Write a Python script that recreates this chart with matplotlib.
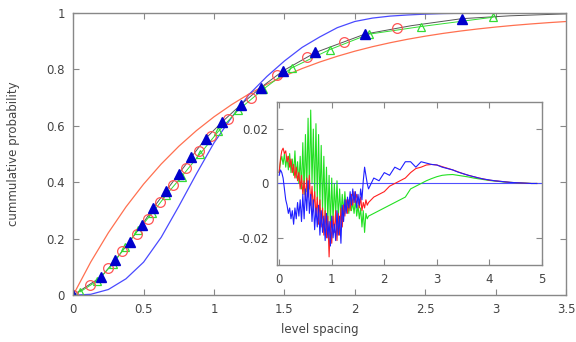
import numpy as np
import matplotlib
matplotlib.use('Agg')
import matplotlib.pyplot as plt

# theory curves, sampled every 0.125 in level spacing
s_theory = np.linspace(0, 3.5, 29)
poisson_cdf = [0.0, 0.1175, 0.2212, 0.3127, 0.3935, 0.4647, 0.5276, 0.5831, 0.6321,
               0.6753, 0.7135, 0.7472, 0.7769, 0.8031, 0.8262, 0.8466, 0.8647, 0.8806,
               0.8946, 0.9070, 0.9179, 0.9276, 0.9361, 0.9436, 0.9502, 0.9561, 0.9612,
               0.9658, 0.9698]
wigner_cdf = [0.0, 0.003, 0.02, 0.058, 0.117, 0.205, 0.315, 0.43, 0.54,
              0.63, 0.712, 0.775, 0.83, 0.878, 0.915, 0.948, 0.97, 0.982,
              0.989, 0.993, 0.996, 0.998, 0.999, 1.0, 1.0, 1.0, 1.0, 1.0, 1.0]

# measured cumulative distribution (black line) and the three marker sets
data_s = [0.0, 0.2, 0.3, 0.4, 0.49, 0.57, 0.66, 0.75, 0.84, 0.94, 1.06, 1.19, 1.33,
          1.49, 1.72, 2.07, 2.4, 2.76, 3.1, 3.5]
data_cdf = [0.0, 0.065, 0.125, 0.19, 0.25, 0.31, 0.37, 0.43, 0.49, 0.555, 0.615, 0.675,
            0.735, 0.795, 0.86, 0.925, 0.955, 0.98, 0.99, 0.997]

tri_s = [0.0, 0.2, 0.3, 0.4, 0.49, 0.57, 0.66, 0.75, 0.84, 0.94, 1.06, 1.19, 1.33,
         1.49, 1.72, 2.07, 2.76]
tri_cdf = [0.0, 0.065, 0.125, 0.19, 0.25, 0.31, 0.37, 0.43, 0.49, 0.555, 0.615, 0.675,
           0.735, 0.795, 0.86, 0.925, 0.98]

circ_s = [0.0, 0.12, 0.25, 0.35, 0.45, 0.53, 0.62, 0.71, 0.8, 0.89, 0.98, 1.1, 1.26,
          1.45, 1.66, 1.92, 2.3]
circ_cdf = [0.0, 0.035, 0.095, 0.155, 0.215, 0.27, 0.33, 0.39, 0.45, 0.51, 0.565, 0.625,
            0.7, 0.78, 0.845, 0.897, 0.948]

gtri_s = [0.05, 0.17, 0.28, 0.37, 0.46, 0.56, 0.66, 0.77, 0.9, 1.03, 1.17, 1.35, 1.55,
          1.82, 2.1, 2.47, 2.98]
gtri_cdf = [0.012, 0.05, 0.11, 0.17, 0.23, 0.29, 0.355, 0.42, 0.5, 0.58, 0.655, 0.73,
            0.805, 0.87, 0.925, 0.952, 0.985]

# inset: difference to fit, fine sampling up to 1.675, then every 0.1
x_fine = np.linspace(0, 1.675, 68)
x_tail = np.linspace(1.7, 4.9, 33)

blue_fine = [0.003, 0.005, 0.004, 0.002, -0.002, -0.006, -0.008, -0.011, -0.009, -0.013,
             -0.010, -0.015, -0.009, -0.013, -0.007, -0.012, -0.006, -0.014, -0.004, -0.013,
             -0.002, -0.010, 0.001, -0.011, -0.004, -0.014, -0.006, -0.017, -0.009, -0.016,
             -0.008, -0.019, -0.010, -0.018, -0.012, -0.021, -0.011, -0.020, -0.014, -0.023,
             -0.012, -0.020, -0.015, -0.021, -0.010, -0.019, -0.012, -0.022, -0.008, -0.014,
             -0.006, -0.011, -0.005, -0.009, -0.003, -0.008, -0.002, -0.007, -0.003, -0.009,
             -0.004, -0.008, -0.002, -0.006, 0.001, 0.006, 0.003, 0.000]
blue_tail = [-0.002, 0.002, 0.001, 0.004, 0.003, 0.006, 0.005, 0.008, 0.008, 0.006,
             0.008, 0.0075, 0.007, 0.0068, 0.006, 0.0055, 0.005, 0.0042, 0.0036, 0.003,
             0.0025, 0.002, 0.0016, 0.0013, 0.001, 0.0008, 0.0006, 0.0004, 0.0003, 0.0002,
             0.0001, 0.0, 0.0]

red_fine = [0.004, 0.009, 0.012, 0.013, 0.011, 0.012, 0.008, 0.010, 0.006, 0.009,
            0.004, 0.007, 0.002, 0.006, 0.001, 0.004, -0.002, 0.003, -0.004, 0.001,
            -0.006, 0.002, -0.005, 0.003, -0.008, -0.001, -0.010, -0.003, -0.012, -0.005,
            -0.015, -0.006, -0.016, -0.009, -0.019, -0.010, -0.020, -0.012, -0.027, -0.014,
            -0.022, -0.012, -0.018, -0.010, -0.021, -0.011, -0.019, -0.009, -0.016, -0.008,
            -0.012, -0.006, -0.011, -0.006, -0.010, -0.004, -0.008, -0.003, -0.007, -0.004,
            -0.006, -0.009, -0.005, -0.010, -0.007, -0.009, -0.006, -0.008]
red_tail = [-0.007, -0.005, -0.004, -0.003, -0.001, 0.000, 0.001, 0.002, 0.004, 0.0055,
            0.006, 0.0068, 0.007, 0.0068, 0.0062, 0.0056, 0.005, 0.0043, 0.0036, 0.003,
            0.0025, 0.002, 0.0016, 0.0012, 0.001, 0.0008, 0.0006, 0.0004, 0.0003, 0.0002,
            0.0001, 0.0, 0.0]

green_fine = [0.004, 0.008, 0.010, 0.007, 0.011, 0.006, 0.010, 0.005, 0.011, 0.004,
              0.009, 0.003, 0.012, 0.002, 0.008, 0.000, 0.010, -0.002, 0.015, -0.004,
              0.018, -0.003, 0.024, -0.002, 0.027, 0.000, 0.020, -0.005, 0.022, -0.006,
              0.018, -0.008, 0.014, -0.010, 0.010, -0.012, 0.006, -0.014, 0.003, -0.016,
              0.002, -0.014, 0.000, -0.012, 0.001, -0.013, -0.002, -0.012, -0.004, -0.011,
              -0.003, -0.010, -0.006, -0.011, -0.005, -0.010, -0.007, -0.011, -0.006, -0.012,
              -0.008, -0.013, -0.009, -0.016, -0.010, -0.018, -0.011, -0.013]
green_tail = [-0.012, -0.011, -0.010, -0.009, -0.008, -0.007, -0.006, -0.005, -0.002, -0.001,
              0.000, 0.001, 0.0018, 0.0025, 0.003, 0.0032, 0.0033, 0.003, 0.0027, 0.0024,
              0.002, 0.0017, 0.0014, 0.0011, 0.0009, 0.0007, 0.0005, 0.0004, 0.0003, 0.0002,
              0.0001, 0.0, 0.0]

frame = '#888888'
text = '#444444'

fig = plt.figure(figsize=(5.76, 3.42), dpi=100)

# main panel
ax = fig.add_axes([0.127, 0.137, 0.856, 0.825])
ax.plot(s_theory, poisson_cdf, color='#ff7050', lw=0.9)
ax.plot(s_theory, wigner_cdf, color='#4a4aff', lw=0.9)
ax.plot(data_s, data_cdf, color='#555555', lw=0.7)
ax.plot(gtri_s, gtri_cdf, color='#33dd33', lw=0.7, marker='^', mfc='none', mec='#33dd33',
        ms=6, mew=0.9)
ax.plot(circ_s, circ_cdf, ls='none', marker='o', mfc='none', mec='#ff5555', ms=7, mew=0.9)
ax.plot(tri_s, tri_cdf, ls='none', marker='^', color='#0000cc', ms=7)

ax.set_xlim(0, 3.5)
ax.set_ylim(0, 1)
ax.set_xticks([0, 0.5, 1, 1.5, 2, 2.5, 3, 3.5])
ax.set_xticklabels(['0', '0.5', '1', '1.5', '2', '2.5', '3', '3.5'])
ax.set_yticks([0, 0.2, 0.4, 0.6, 0.8, 1])
ax.set_yticklabels(['0', '0.2', '0.4', '0.6', '0.8', '1'])
ax.tick_params(direction='in', top=True, right=True, length=4, width=0.8, colors=frame,
               labelcolor=text, labelsize=8.5, pad=6)
for sp in ax.spines.values():
    sp.set_color(frame)
    sp.set_linewidth(1.0)
ax.set_xlabel('level spacing', fontsize=8.5, color=text, labelpad=5)
ax.set_ylabel('cummulative probability', fontsize=8.5, color=text, labelpad=19)

# inset
ins = fig.add_axes([0.481, 0.225, 0.46, 0.477])
ins.axhline(0, color='#5050ff', lw=0.8)
ins.plot(np.concatenate([x_fine, x_tail]), green_fine + green_tail, color='#22e022', lw=0.8)
ins.plot(np.concatenate([x_fine, x_tail]), red_fine + red_tail, color='#ff2020', lw=0.8)
ins.plot(np.concatenate([x_fine, x_tail]), blue_fine + blue_tail, color='#2020ff', lw=0.8)
ins.set_xlim(-0.04, 5)
ins.set_ylim(-0.03, 0.03)
ins.set_xticks([0, 1, 2, 3, 4, 5])
ins.set_yticks([-0.02, 0, 0.02])
ins.set_yticklabels(['-0.02', '0', '0.02'])
ins.tick_params(direction='in', top=True, right=True, length=4, width=0.8, colors=frame,
                labelcolor=text, labelsize=8.5, pad=6)
for sp in ins.spines.values():
    sp.set_color(frame)
    sp.set_linewidth(1.0)

fig.savefig('out.png', dpi=100)
